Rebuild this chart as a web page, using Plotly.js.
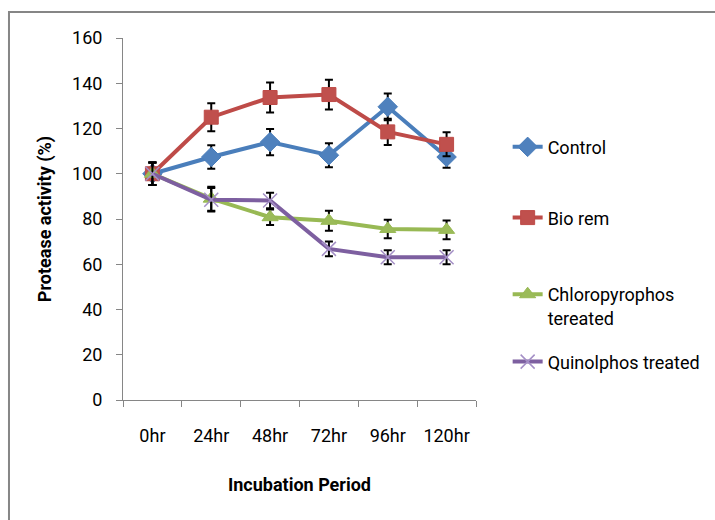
<!DOCTYPE html>
<html>
<head>
<meta charset="utf-8">
<script src="https://cdn.plot.ly/plotly-3.0.1.min.js"></script>
<style>
  html, body { margin: 0; padding: 0; background: #ffffff; }
  #chart { width: 715px; height: 520px; }
</style>
</head>
<body>
<div id="chart"></div>
<script>
// Incubation periods (x categories)
const periods = ['0hr', '24hr', '48hr', '72hr', '96hr', '120hr'];

// Protease activity (%) per treatment, with standard error
const controlVals = [100, 107.4, 114, 108.2, 129.6, 107.4];
const controlErr  = [5, 5.2, 5.8, 5.3, 5.9, 4.7];

const bioRemVals = [100, 125, 133.7, 135, 118.5, 113];
const bioRemErr  = [5, 6.2, 6.6, 6.6, 5.8, 5.3];

const chloroVals = [100, 89, 80.8, 79.2, 75.6, 75.2];
const chloroErr  = [5, 5.3, 3.4, 4.4, 4.1, 4.1];

const quinolVals = [100, 88.5, 88.2, 66.8, 63.1, 63.1];
const quinolErr  = [5, 5.2, 3.4, 3.3, 3.1, 3.1];

const seriesNames = ['Control', 'Bio rem', 'Chloropyrophos<br>tereated', 'Quinolphos treated'];
const yTicks = [0, 20, 40, 60, 80, 100, 120, 140, 160];

const FONT = 'Roboto, "Liberation Sans", Arial, sans-serif';

function errBars(arr) {
  return { type: 'data', array: arr, visible: true, color: '#000000', thickness: 2, width: 4 };
}

const traces = [
  {
    x: periods, y: controlVals, name: seriesNames[0], type: 'scatter', mode: 'lines+markers',
    line: { color: '#4A7EBB', width: 4 },
    marker: { symbol: 'diamond', size: 15, color: '#4F81BD', line: { color: '#4A7EBB', width: 1 } },
    error_y: errBars(controlErr), legend: 'legend'
  },
  {
    x: periods, y: bioRemVals, name: seriesNames[1], type: 'scatter', mode: 'lines+markers',
    line: { color: '#BE4B48', width: 4 },
    marker: { symbol: 'square', size: 14, color: '#C0504D', line: { color: '#BE4B48', width: 1 } },
    error_y: errBars(bioRemErr), legend: 'legend2'
  },
  {
    x: periods, y: chloroVals, name: seriesNames[2], type: 'scatter', mode: 'lines+markers',
    line: { color: '#98B954', width: 4 },
    marker: { symbol: 'triangle-up', size: 14, color: '#9BBB59', line: { color: '#98B954', width: 1 } },
    error_y: errBars(chloroErr), legend: 'legend3'
  },
  {
    x: periods, y: quinolVals, name: seriesNames[3], type: 'scatter', mode: 'lines+markers',
    line: { color: '#7D5FA0', width: 4 },
    marker: { symbol: 'x-thin-open', size: 14, color: '#A48FC6', line: { color: '#A48FC6', width: 1.5 } },
    error_y: errBars(quinolErr), legend: 'legend4'
  }
];

// each legend entry sits in its own box, placed against the page
function legendAt(yContainer) {
  return {
    xref: 'container', yref: 'container',
    x: 0.71, xanchor: 'left', y: yContainer, yanchor: 'middle',
    bgcolor: 'rgba(0,0,0,0)', borderwidth: 0, valign: 'top',
    font: { family: FONT, size: 18, color: '#000000' }
  };
}

const layout = {
  width: 715, height: 520,
  margin: { l: 123, r: 239, t: 38, b: 120, pad: 0 },
  paper_bgcolor: '#ffffff', plot_bgcolor: '#ffffff',
  font: { family: FONT, size: 18, color: '#000000' },
  showlegend: true,
  legend: legendAt(0.717),
  legend2: legendAt(0.581),
  legend3: legendAt(0.4115),
  legend4: legendAt(0.304),
  xaxis: {
    type: 'category', categoryorder: 'array', categoryarray: periods,
    range: [-0.5, 5.5], showgrid: false, zeroline: false, automargin: false,
    showline: true, linecolor: '#868686', linewidth: 1,
    ticks: 'outside', tickson: 'boundaries', ticklen: 6, tickcolor: '#868686',
    tickangle: 0, ticklabelstandoff: 19,
    tickfont: { family: FONT, size: 18, color: '#000000' },
    title: { text: '<b>Incubation Period</b>', font: { family: FONT, size: 18 }, standoff: 33 }
  },
  yaxis: {
    range: [0, 160], tickvals: yTicks, showgrid: false, zeroline: false, automargin: false,
    showline: true, linecolor: '#868686', linewidth: 1,
    ticks: 'outside', ticklen: 6, tickcolor: '#868686', ticklabelstandoff: 10,
    tickfont: { family: FONT, size: 18, color: '#000000' },
    title: { text: '<b>Protease activity (%)</b>', font: { family: FONT, size: 18 }, standoff: 15 }
  },
  shapes: [{
    type: 'rect', xref: 'paper', yref: 'paper',
    x0: -0.323, x1: 1.70, y0: -0.36, y1: 1.0718,
    line: { color: '#868686', width: 2 }, fillcolor: 'rgba(0,0,0,0)', layer: 'below'
  }]
};

Plotly.newPlot('chart', traces, layout, { displayModeBar: false, staticPlot: true });
</script>
</body>
</html>
